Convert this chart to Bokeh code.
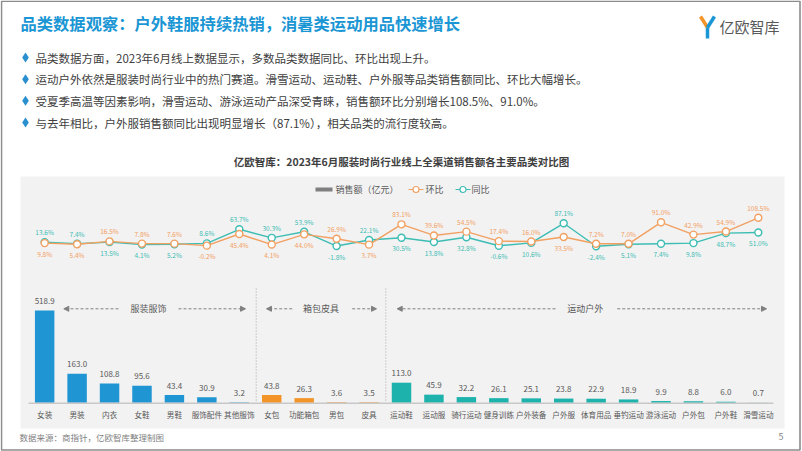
from bokeh.plotting import figure
from bokeh.models import Range1d, FactorRange, LinearScale, ColumnDataSource, Arrow, NormalHead
from bokeh.core.properties import value
from bokeh.embed import file_html
from bokeh.resources import INLINE

# ---------------- data ----------------
categories = ["女装", "男装", "内衣", "女鞋", "男鞋", "服饰配件", "其他服饰",
              "女包", "功能箱包", "男包", "皮具",
              "运动鞋", "运动服", "骑行运动", "健身训练", "户外装备", "户外服",
              "体育用品", "垂钓运动", "游泳运动", "户外包", "户外鞋", "滑雪运动"]
groups = ["服装服饰"] * 7 + ["箱包皮具"] * 4 + ["运动户外"] * 12
sales = [518.9, 163.0, 108.8, 95.6, 43.4, 30.9, 3.2,
         43.8, 26.3, 3.6, 3.5,
         113.0, 45.9, 32.2, 26.1, 25.1, 23.8, 22.9, 18.9, 9.9, 8.8, 6.0, 0.7]
huanbi = [9.8, 5.4, 16.5, 7.8, 7.6, -0.2, 45.4,
          4.1, 44.0, 26.9, 3.7,
          83.1, 39.6, 54.5, 17.4, 16.0, 33.5, 7.2, 7.0, 91.0, 42.9, 54.9, 108.5]
tongbi = [13.6, 7.4, 13.5, 4.1, 5.2, 8.6, 63.7,
          30.3, 53.9, -1.8, 22.1,
          30.5, 13.8, 32.8, -0.6, 10.6, 87.1, -2.4, 5.1, 7.4, 9.8, 48.7, 51.0]
bullets = [
    "品类数据方面，2023年6月线上数据显示，多数品类数据同比、环比出现上升。",
    "运动户外依然是服装时尚行业中的热门赛道。滑雪运动、运动鞋、户外服等品类销售额同比、环比大幅增长。",
    "受夏季高温等因素影响，滑雪运动、游泳运动产品深受青睐，销售额环比分别增长108.5%、91.0%。",
    "与去年相比，户外服销售额同比出现明显增长（87.1%），相关品类的流行度较高。",
]
group_colors = {"服装服饰": "#1f95d3", "箱包皮具": "#f39428", "运动户外": "#1db3ac"}

FONT = value("Noto Sans CJK SC")
W, H = 802, 451
BLUE = "#1a96d4"
ORANGE = "#f2a062"
TEAL = "#3dbdb4"

n = len(categories)
step = 32.44                      # px per category
span = W / step
half = (span - n) / 2
PAD = 2 * half / n


def fx(px):
    """canvas pixel -> synthetic categorical coordinate"""
    return -half + px / W * span


bar_px = 92.3 / 518.9     # px per 亿元
pct_px = 0.256            # px per %
base_y = 402.3            # baseline (px from top)
zero_pct = 245.1

p = figure(width=W, height=H, x_range=FactorRange(factors=categories, range_padding=PAD),
           y_range=Range1d(H, 0),
           x_axis_location=None, y_axis_location=None,
           output_backend="svg", toolbar_location=None, min_border=0,
           outline_line_color=None, background_fill_color="white",
           border_fill_color="white")
p.grid.visible = False
p.extra_y_ranges = {"bar": Range1d(-(H - base_y) / bar_px, base_y / bar_px),
                    "pct": Range1d(-(H - zero_pct) / pct_px, zero_pct / pct_px)}
p.extra_y_scales = {"bar": LinearScale(), "pct": LinearScale()}

# slide frame and gray chart panel
p.quad(left=[fx(1)], right=[fx(799.5)], top=[0.8], bottom=[449.5], fill_color=None,
       line_color="#8c8c8c", line_width=1.6)
p.quad(left=[fx(20)], right=[fx(784)], top=[176], bottom=[428], fill_color="#f2f2f2", line_color=None)

# header
p.text(x=[fx(20)], y=[22], text=["品类数据观察：户外鞋服持续热销，消暑类运动用品快速增长"],
       text_font=FONT, text_font_size="16.3px", text_font_style="bold",
       text_color=BLUE, text_baseline="middle")
# logo
p.multi_line(xs=[[fx(700), fx(707)], [fx(714), fx(707)], [fx(707), fx(707)]],
             ys=[[16, 27], [16, 27], [27, 38]],
             line_color=["#f39428", BLUE, BLUE], line_width=3.5)
p.text(x=[fx(719)], y=[26], text=["亿欧智库"], text_font=FONT, text_font_size="15px",
       text_color="#595959", text_baseline="middle")

by = [57, 78.7, 100.3, 122]
p.scatter(x=[fx(25)] * 4, y=by, marker="diamond", size=10, fill_color="#2a8fcf", line_color=None)
p.text(x=[fx(35)] * 4, y=by, text=bullets, text_font=FONT, text_font_size="11.5px",
       text_color="#404040", text_baseline="middle")

# chart title
p.text(x=[fx(401)], y=[161], text=["亿欧智库：2023年6月服装时尚行业线上全渠道销售额各主要品类对比图"],
       text_font=FONT, text_font_size="10.5px", text_font_style="bold",
       text_color="#404040", text_baseline="middle", text_align="center")

# legend
p.quad(left=[fx(315)], right=[fx(332)], top=[187], bottom=[191], fill_color="#7f7f7f", line_color=None)
p.text(x=[fx(335)], y=[189], text=["销售额（亿元）"], text_font=FONT, text_font_size="9px",
       text_color="#595959", text_baseline="middle")
p.segment(x0=[fx(408), fx(455)], y0=[189, 189], x1=[fx(423), fx(470)], y1=[189, 189],
          line_color=[ORANGE, TEAL], line_width=1.2)
p.scatter(x=[fx(415.5), fx(462.5)], y=[189, 189], marker="circle", size=6, fill_color="white",
          line_color=[ORANGE, TEAL], line_width=1.2)
p.text(x=[fx(425), fx(471)], y=[189, 189], text=["环比", "同比"], text_font=FONT, text_font_size="9px",
       text_color="#595959", text_baseline="middle")

# bars
src = ColumnDataSource(dict(cat=categories, sales=sales,
                            color=[group_colors[g] for g in groups],
                            label=[f"{v:.1f}" for v in sales],
                            ly=[v + 9.5 / bar_px for v in sales]))
p.vbar(x="cat", top="sales", bottom=0, width=0.6, fill_color="color", line_color=None,
       source=src, y_range_name="bar")
p.text(x="cat", y="ly", text="label", source=src, y_range_name="bar",
       text_font=FONT, text_font_size="8px", text_color="#595959",
       text_align="center", text_baseline="middle")
p.segment(x0=[fx(28)], y0=[base_y + 0.5], x1=[fx(773)], y1=[base_y + 0.5], line_color="#c8c8c8", line_width=1.5)
p.text(x=categories, y=[414] * n, text=categories,
       text_font=FONT, text_font_size="7.6px", text_color="#595959",
       text_align="center", text_baseline="middle")

# group annotations
for cx, txt in [(148, "服装服饰"), (320.5, "箱包皮具"), (584.7, "运动户外")]:
    p.text(x=[fx(cx)], y=[308.3], text=[txt], text_font=FONT, text_font_size="9px",
           text_color="#595959", text_align="center", text_baseline="middle")
for x0, x1 in [(118, 63.3), (178, 245), (291.7, 266), (351.7, 376), (555, 396.7), (616.7, 766)]:
    p.add_layout(Arrow(x_start=fx(x0), y_start=308.3, x_end=fx(x1), y_end=308.3,
                       line_color="#808080", line_width=1, line_dash="3 2",
                       end=NormalHead(size=5, fill_color="#808080", line_color="#808080")))
p.segment(x0=[fx(255.7), fx(385.3)], y0=[288, 288], x1=[fx(255.7), fx(385.3)], y1=[402, 402],
          line_color="#a6a6a6", line_width=1, line_dash="1 2")

# lines
hb_up, hb_lab, tb_up, tb_lab = [], [], [], []
for h, t in zip(huanbi, tongbi):
    if t >= h:
        tb_up.append(t + 10 / pct_px); hb_up.append(h - 10.7 / pct_px)
    else:
        hb_up.append(h + 10 / pct_px); tb_up.append(t - 10.7 / pct_px)
    hb_lab.append(f"{h:.1f}%"); tb_lab.append(f"{t:.1f}%")

for vals, col, ly, lab in [(tongbi, TEAL, tb_up, tb_lab), (huanbi, ORANGE, hb_up, hb_lab)]:
    p.line(x=categories, y=vals, y_range_name="pct", line_color=col, line_width=1.4)
    p.scatter(x=categories, y=vals, y_range_name="pct", marker="circle",
              size=7, fill_color="white", line_color=col, line_width=1.4)
    p.text(x=categories, y=ly, text=lab, y_range_name="pct",
           text_font=FONT, text_font_size="6.5px", text_color=col,
           text_align="center", text_baseline="middle")

# footer
p.text(x=[fx(19)], y=[436], text=["数据来源：商指针，亿欧智库整理制图"], text_font=FONT,
       text_font_size="8.5px", text_color="#7f7f7f", text_baseline="middle")
p.text(x=[fx(778)], y=[436], text=["5"], text_font=FONT, text_font_size="9px",
       text_color="#7f7f7f", text_baseline="middle")

open("out.html", "w").write(file_html(p, INLINE))
